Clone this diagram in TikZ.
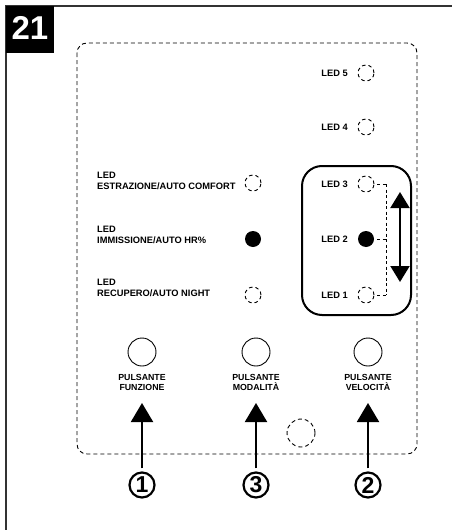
\documentclass[tikz,border=0pt]{standalone}
\usepackage{fontspec}
\setmainfont{Liberation Sans}
\usetikzlibrary{arrows.meta}
\begin{document}
\begin{tikzpicture}[x=1pt,y=-1pt,
 ledoff/.style={circle,draw,dash pattern=on 3.5pt off 3pt,minimum size=16pt,inner sep=0pt,line width=0.9pt},
 ledon/.style={circle,fill=black,minimum size=16pt,inner sep=0pt},
 lbl/.style={font=\bfseries\fontsize{9.3}{11}\selectfont,inner sep=0pt,align=left},
 plbl/.style={font=\bfseries\fontsize{8.8}{10}\selectfont,inner sep=0pt,align=center},
 btn/.style={circle,draw,line width=0.9pt,minimum size=28pt,inner sep=0pt},
 num/.style={circle,draw,line width=2.2pt,minimum size=25pt,inner sep=0pt,font=\bfseries\fontsize{23}{23}\selectfont},
 uparrow/.style={line width=2pt,-{Triangle[width=22pt,length=19pt]}},
 bracket/.style={line width=0.8pt,dash pattern=on 3pt off 2.5pt},
]
\useasboundingbox (0,0) rectangle (452,530);
% frame
\draw[line width=2pt,black!80] (452,6) -- (6,6) -- (6,530);
\fill[black] (6,6) rectangle (54,53);
\node[text=white,font=\bfseries\fontsize{33}{33}\selectfont,inner sep=0pt] (fig) at (30,28) {21};
% outline
\draw[line width=0.9pt,dash pattern=on 4pt off 3pt,rounded corners=10pt] (77,43) rectangle (417,454);
% right LEDs
\node[ledoff] (l5) at (366,73) {};
\node[ledoff] (l4) at (366,127) {};
\node[ledoff] (l3) at (366,184) {};
\node[ledon]  (l2) at (366,239) {};
\node[ledoff] (l1) at (366,295) {};
\node[lbl,anchor=east] (t5) at (348,73) {LED 5};
\node[lbl,anchor=east] (t4) at (348,127) {LED 4};
\node[lbl,anchor=east] (t3) at (348,184) {LED 3};
\node[lbl,anchor=east] (t2) at (348,239) {LED 2};
\node[lbl,anchor=east] (t1) at (348,295) {LED 1};
% group box
\draw[line width=2pt,rounded corners=20pt] (302,166) rectangle (411,315);
\coordinate (b3) at (386,184);
\coordinate (b2) at (386,239);
\coordinate (b1) at (386,295);
\draw[bracket,shorten <=3pt] (l3.east) -- (b3);
\draw[bracket,shorten <=3pt] (l2.east) -- (b2);
\draw[bracket,shorten <=3pt] (l1.east) -- (b1);
\draw[bracket] (b3) -- (b1);
\coordinate (da1) at (400,192);
\coordinate (da2) at (400,282);
\draw[line width=2pt,{Triangle[width=19pt,length=16pt]}-{Triangle[width=19pt,length=16pt]}] (da1) -- (da2);
% left LEDs
\node[ledoff] (le) at (253,183) {};
\node[ledon]  (li) at (253,239) {};
\node[ledoff] (lr) at (253,295) {};
\node[lbl,anchor=west] (te) at (97,180.5) {LED\\ESTRAZIONE/AUTO COMFORT};
\node[lbl,anchor=west] (ti) at (97,234.5) {LED\\IMMISSIONE/AUTO HR\%};
\node[lbl,anchor=west] (tr) at (97,287.5) {LED\\RECUPERO/AUTO NIGHT};
% buttons
\node[btn] (p1) at (142,352) {};
\node[btn] (p3) at (256,352) {};
\node[btn] (p2) at (368,352) {};
\node[plbl] (q1) at (142,382) {PULSANTE\\FUNZIONE};
\node[plbl] (q3) at (256,382) {PULSANTE\\MODALITÀ};
\node[plbl] (q2) at (368,382) {PULSANTE\\VELOCITÀ};
% dashed circle
\node[circle,draw,line width=0.9pt,dash pattern=on 4pt off 3pt,minimum size=28pt,inner sep=0pt] (dc) at (301,433) {};
% numbers and arrows
\node[num] (n1) at (142,485) {1};
\node[num] (n3) at (256,485) {3};
\node[num] (n2) at (368,485) {2};
\coordinate (a1) at (142,403);
\coordinate (a3) at (256,403);
\coordinate (a2) at (368,403);
\draw[uparrow] (n1.north) ++(0,-3) -- (a1);
\draw[uparrow] (n3.north) ++(0,-3) -- (a3);
\draw[uparrow] (n2.north) ++(0,-3) -- (a2);
\end{tikzpicture}
\end{document}
